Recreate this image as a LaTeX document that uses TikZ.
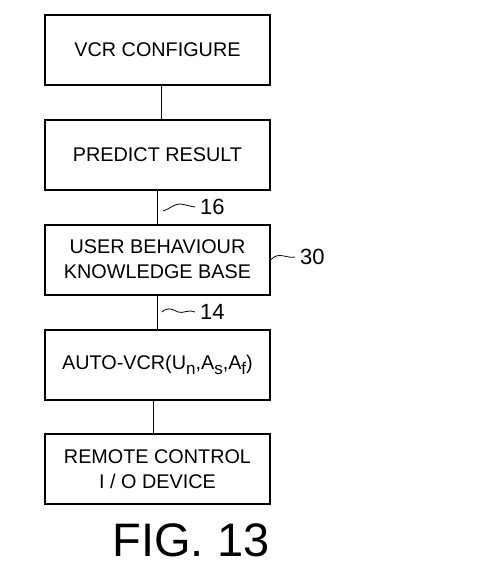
\documentclass[tikz,border=0pt]{standalone}
\usepackage{fontspec}
\setmainfont{Liberation Sans}
\usepackage{tikz}

\newcommand{\lowsub}[1]{\raisebox{-0.55ex}{\fontsize{17}{17}\selectfont #1}}

\begin{document}
\begin{tikzpicture}[x=1pt, y=-1pt,
	block/.style={draw, line width=2pt, minimum width=225pt, minimum height=70pt, align=center, inner sep=0pt, font=\fontsize{19.8}{25}\selectfont},
	refnum/.style={anchor=west, inner xsep=5pt, inner ysep=0pt, font=\fontsize{22}{22}\selectfont},
	link/.style={line width=0.8pt},
	squig/.style={line width=0.8pt}]
	\useasboundingbox (0,0) rectangle (499,576);
	\node [block] (Config) at (157.5, 50) {VCR CONFIGURE};
	\node [block] (Predict) at (157.5, 155) {PREDICT RESULT};
	\node [block] (Know) at (157.5, 259.5) {USER BEHAVIOUR\\KNOWLEDGE BASE};
	\node [block] (Auto) at (157.5, 365) {AUTO-VCR(U\lowsub{n},A\lowsub{s},A\lowsub{f})};
	\node [block] (Remote) at (157.5, 469) {REMOTE CONTROL\\I / O DEVICE};
	\node [font=\fontsize{47}{47}\selectfont] (Fig) at (191, 540) {FIG. 13};
	\draw [link] ([xshift=3.5pt]Config.south) -- ([xshift=3.5pt]Predict.north);
	\draw [link] (Predict) -- (Know);
	\draw [link] (Know) -- (Auto);
	\draw [link] ([xshift=-4.5pt]Auto.south) -- ([xshift=-4.5pt]Remote.north);
	\node [refnum] (Lbl16) at (195, 207) {16};
	\node [refnum] (Lbl30) at (295, 257) {30};
	\node [refnum] (Lbl14) at (195, 312) {14};
	\coordinate (S16) at (163, 211);
	\coordinate (S14) at (162, 312);
	\draw [squig] (S16) .. controls (170,209) and (175,203) .. (181,204) .. controls (186,205) and (189,206) .. (Lbl16.west);
	\draw [squig] (S14) .. controls (168,306) and (174,310) .. (178,312) .. controls (183,314) and (188,309) .. (Lbl14.west);
	\draw [squig] (Know.east) .. controls (279,251) and (287,259) .. (Lbl30.west);
\end{tikzpicture}
\end{document}
